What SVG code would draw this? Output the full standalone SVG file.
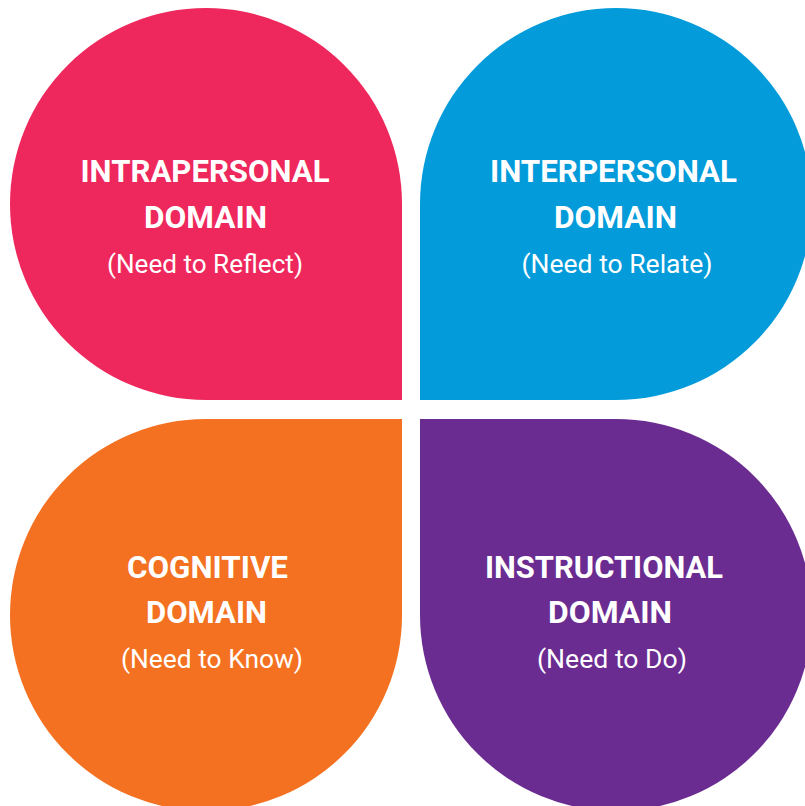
<svg xmlns="http://www.w3.org/2000/svg" width="805" height="806" viewBox="0 0 805 806">
  <style>
    .title { font-family: "Roboto", "Liberation Sans", sans-serif; font-weight: 700; font-size: 32px; fill: #ffffff; text-anchor: middle; }
    .sub { font-family: "Roboto", "Liberation Sans", sans-serif; font-weight: 400; font-size: 25px; fill: #ffffff; text-anchor: middle; }
  </style>
  <rect width="805" height="806" fill="#ffffff"/>
  <g id="intrapersonal">
    <path d="M 402 400 L 206 400 A 196 196 0 0 1 10 204 A 196 196 0 0 1 206 8 A 196 196 0 0 1 402 204 Z" fill="#EE275C"/>
    <text class="title" x="205" y="182" textLength="249" lengthAdjust="spacingAndGlyphs">INTRAPERSONAL</text>
    <text class="title" x="205.5" y="228" textLength="123" lengthAdjust="spacingAndGlyphs">DOMAIN</text>
    <text class="sub" x="205" y="273" textLength="196" lengthAdjust="spacingAndGlyphs">(Need to Reflect)</text>
  </g>
  <g id="interpersonal">
    <path d="M 420 400 L 420 204 A 196 196 0 0 1 616 8 A 196 196 0 0 1 812 204 A 196 196 0 0 1 616 400 Z" fill="#039BDA"/>
    <text class="title" x="613.5" y="182" textLength="247" lengthAdjust="spacingAndGlyphs">INTERPERSONAL</text>
    <text class="title" x="615.5" y="228" textLength="123" lengthAdjust="spacingAndGlyphs">DOMAIN</text>
    <text class="sub" x="617" y="273" textLength="191" lengthAdjust="spacingAndGlyphs">(Need to Relate)</text>
  </g>
  <g id="cognitive">
    <path d="M 402 419 L 402 615 A 196 196 0 0 1 206 811 A 196 196 0 0 1 10 615 A 196 196 0 0 1 206 419 Z" fill="#F37121"/>
    <text class="title" x="207.5" y="578" textLength="161" lengthAdjust="spacingAndGlyphs">COGNITIVE</text>
    <text class="title" x="206.5" y="623" textLength="121" lengthAdjust="spacingAndGlyphs">DOMAIN</text>
    <text class="sub" x="212" y="668" textLength="182" lengthAdjust="spacingAndGlyphs">(Need to Know)</text>
  </g>
  <g id="instructional">
    <path d="M 420 419 L 616 419 A 196 196 0 0 1 812 615 A 196 196 0 0 1 616 811 A 196 196 0 0 1 420 615 Z" fill="#6A2C91"/>
    <text class="title" x="604" y="578" textLength="238" lengthAdjust="spacingAndGlyphs">INSTRUCTIONAL</text>
    <text class="title" x="610" y="623" textLength="124" lengthAdjust="spacingAndGlyphs">DOMAIN</text>
    <text class="sub" x="612" y="668" textLength="150" lengthAdjust="spacingAndGlyphs">(Need to Do)</text>
  </g>
  <g id="connectors"/>
</svg>
